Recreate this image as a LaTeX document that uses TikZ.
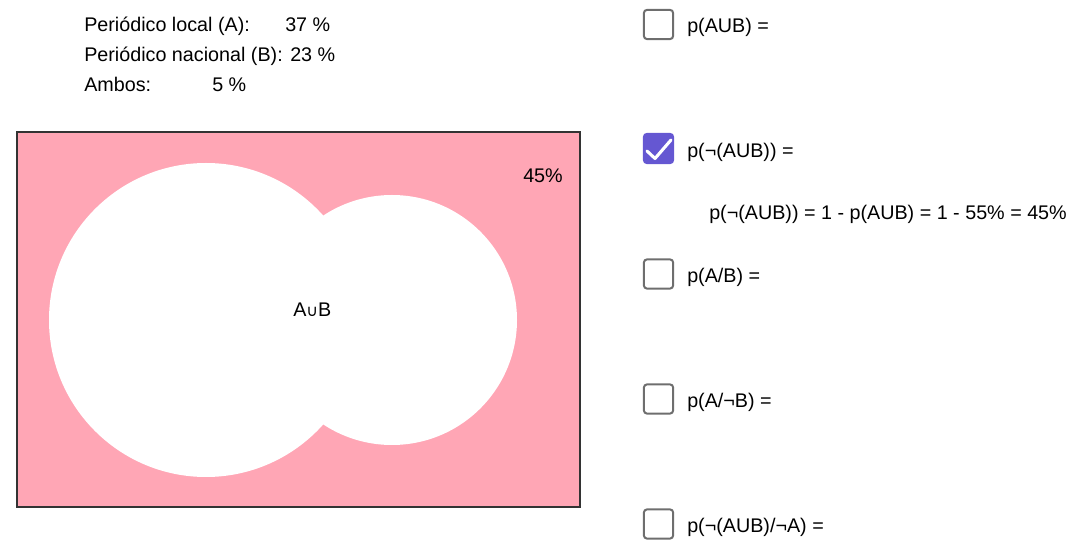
\documentclass[tikz,border=0pt]{standalone}
\usepackage{fontspec}
\setmainfont{Liberation Sans}
\newfontfamily\symfont{DejaVu Sans}
\definecolor{vennpink}{HTML}{FFA6B5}
\definecolor{boxgray}{HTML}{6E6E6E}
\definecolor{checkpurple}{HTML}{6557D2}
\tikzset{
  txt/.style={anchor=base west, inner sep=0pt,
    font=\fontsize{14.8}{18}\selectfont},
  chkbox/.style={draw=boxgray, line width=1.5pt, rounded corners=2.5pt,
    minimum size=22pt, inner sep=0pt},
  setcircle/.style={circle, fill=white, inner sep=0pt},
}

\begin{document}
\begin{tikzpicture}[x=0.75pt, y=-0.75pt]
  \useasboundingbox (0,0) rectangle (1072,555);
  % data
  \node[txt] (locA) at (84,32) {Periódico local (A):};
  \node[txt] (valA) at (285,32) {37 \%};
  \node[txt] (nacB) at (84,62) {Periódico nacional (B):};
  \node[txt] (valB) at (290,62) {23 \%};
  \node[txt] (both) at (84,92) {Ambos:};
  \node[txt] (valAB) at (212,92) {5 \%};
  % venn
  \draw[draw=black!80, line width=2pt, fill=vennpink] (17,132) rectangle (580,507);
  \node[setcircle, minimum size=235.5pt] (setA) at (206,320) {};
  \node[setcircle, minimum size=187.5pt] (setB) at (392,320) {};
  \node[txt] (union) at (293,317) {A{\symfont\fontsize{12}{12}\selectfont ∪}B};
  \node[txt] (rest) at (523,183) {45\%};
  % checkboxes
  \foreach \y/\t [count=\i] in {24.5/{p(AUB) =}, 274/{p(A/B) =},
      399/{p(A/¬B) =}, 524/{p(¬(AUB)/¬A) =}}{
    \node[chkbox] (box\i) at (658.5,\y) {};
    \node[txt] (lbl\i) at (687,\y+8.5) {\t};
  }
  \node[chkbox, fill=checkpurple, draw=checkpurple] (boxC) at (658.5,148.5) {};
  \draw[white, line width=2.3pt, line cap=round, line join=round]
    (647,151) -- (655,158.5) -- (671,140);
  \node[txt] (lblC) at (687,158) {p(¬(AUB)) =};
  \node[txt] (answer) at (709,220) {p(¬(AUB)) = 1 - p(AUB) = 1 - 55\% = 45\%};
\end{tikzpicture}
\end{document}
